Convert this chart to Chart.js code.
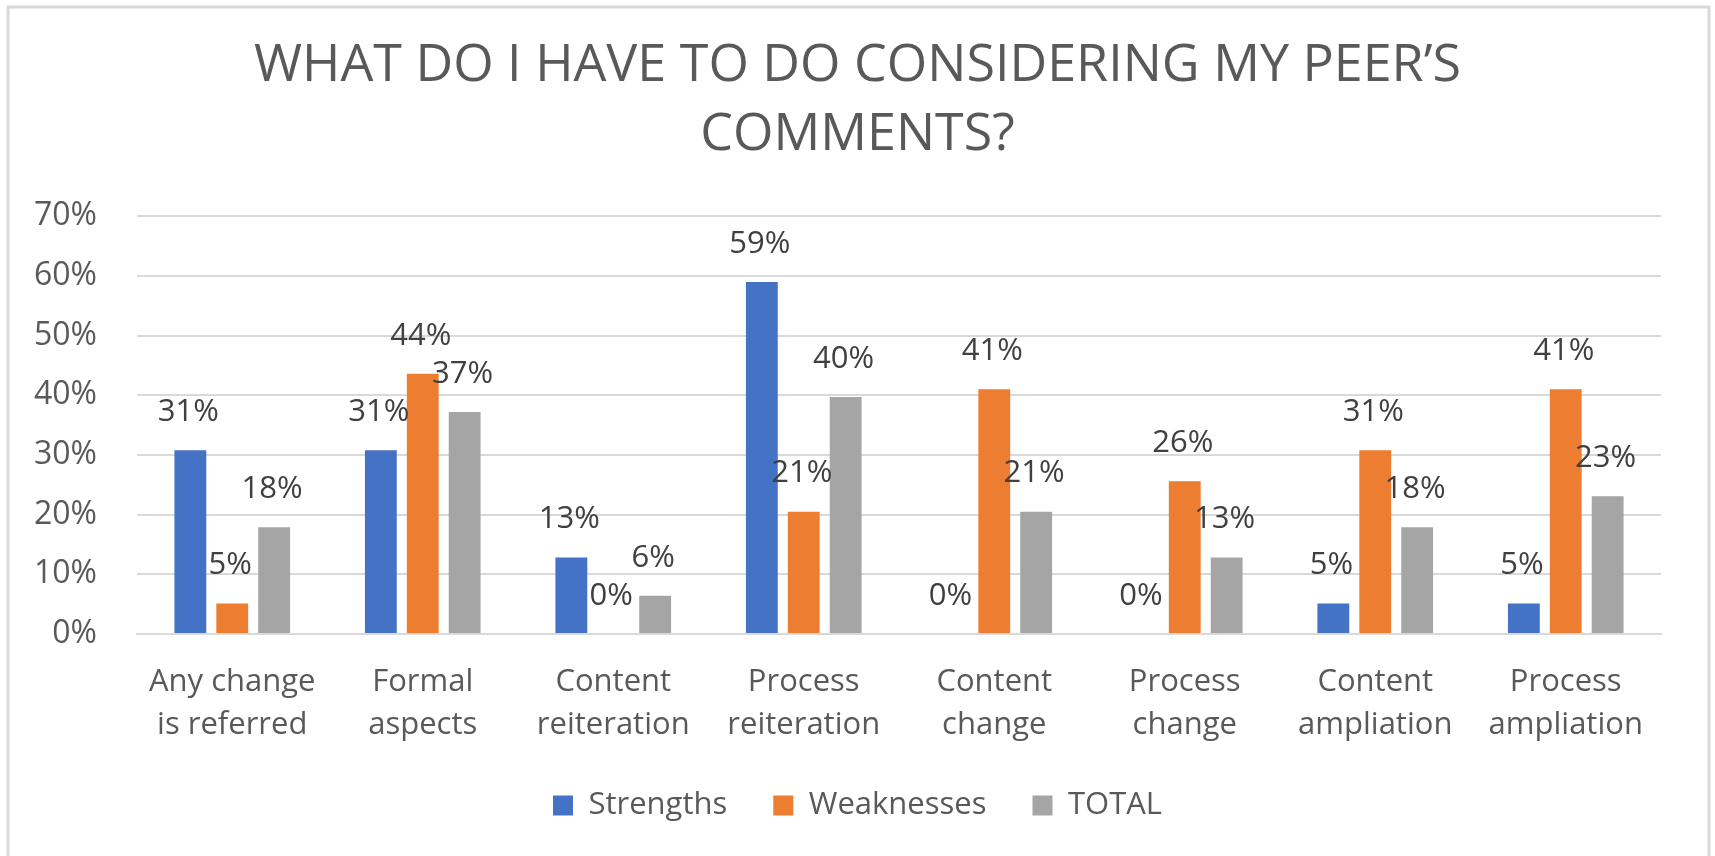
<!DOCTYPE html>
<html>
<head>
<meta charset="utf-8">
<title>What do I have to do considering my peer's comments?</title>
<script src="https://cdn.jsdelivr.net/npm/chart.js@4/dist/chart.umd.min.js"></script>
<style>
  html, body { margin: 0; padding: 0; background: #fff; }
  canvas { display: block; }
</style>
</head>
<body>
<canvas id="chart" width="1715" height="856"></canvas>
<script>
// chart data
const categories = [
  ['Any change', 'is referred'],
  ['Formal', 'aspects'],
  ['Content', 'reiteration'],
  ['Process', 'reiteration'],
  ['Content', 'change'],
  ['Process', 'change'],
  ['Content', 'ampliation'],
  ['Process', 'ampliation']
];
const strengths  = [30.8, 30.8, 12.8, 59.0, 0, 0, 5.1, 5.1];
const weaknesses = [5.1, 43.6, 0, 20.5, 41.0, 25.6, 30.8, 41.0];
const total      = [17.9, 37.2, 6.4, 39.7, 20.5, 12.8, 17.9, 23.1];
const yTicks = [0, 10, 20, 30, 40, 50, 60, 70];

const textColor = '#595959';
const gridColor = '#D9D9D9';
const fontFamily = '"Open Sans", "Liberation Sans", sans-serif';

// light grey frame round the whole chart
const frame = {
  id: 'frame',
  beforeDraw(chart) {
    const ctx = chart.ctx;
    ctx.save();
    ctx.fillStyle = '#fff';
    ctx.fillRect(0, 0, chart.width, chart.height);
    ctx.strokeStyle = gridColor;
    ctx.lineWidth = 3;
    ctx.strokeRect(8, 7, chart.width - 14, chart.height + 20);
    ctx.restore();
  }
};

// value labels above each bar
const barLabels = {
  id: 'barLabels',
  afterDatasetsDraw(chart) {
    const ctx = chart.ctx;
    ctx.save();
    ctx.font = '31px ' + fontFamily;
    ctx.fillStyle = '#404040';
    ctx.textAlign = 'center';
    ctx.textBaseline = 'middle';
    chart.data.datasets.forEach((ds, i) => {
      chart.getDatasetMeta(i).data.forEach((bar, j) => {
        ctx.fillText(Math.round(ds.data[j]) + '%', bar.x - 2, bar.y - 38);
      });
    });
    ctx.restore();
  }
};

new Chart(document.getElementById('chart'), {
  type: 'bar',
  data: {
    labels: categories,
    datasets: [
      { label: 'Strengths', data: strengths, backgroundColor: '#4472C4' },
      { label: 'Weaknesses', data: weaknesses, backgroundColor: '#ED7D31' },
      { label: 'TOTAL', data: total, backgroundColor: '#A5A5A5' }
    ]
  },
  options: {
    responsive: false,
    animation: false,
    devicePixelRatio: 1,
    categoryPercentage: 0.66,
    barPercentage: 0.76,
    layout: { padding: { left: 0, right: 0, top: 0, bottom: 25 } },
    plugins: {
      title: {
        display: true,
        text: ['WHAT DO I HAVE TO DO CONSIDERING MY PEER\u2019S', 'COMMENTS?'],
        color: textColor,
        font: { family: fontFamily, size: 52, weight: 'normal', lineHeight: 1.32 },
        padding: { top: 32, bottom: 47 }
      },
      legend: {
        position: 'bottom',
        labels: {
          color: textColor,
          font: { family: fontFamily, size: 31 },
          boxWidth: 20,
          boxHeight: 20,
          padding: 46
        }
      },
      tooltip: { enabled: false }
    },
    scales: {
      x: {
        grid: { display: false, drawTicks: false },
        border: { color: gridColor, width: 2 },
        ticks: {
          color: textColor,
          font: { family: fontFamily, size: 31, lineHeight: 1.38 },
          padding: 27,
          maxRotation: 0,
          autoSkip: false
        },
        afterFit(s) { s.height = 110; }
      },
      y: {
        min: 0,
        max: 70,
        afterBuildTicks(s) { s.ticks = yTicks.map(v => ({ value: v })); },
        grid: { color: gridColor, lineWidth: 2, drawTicks: false },
        border: { display: false },
        ticks: {
          color: textColor,
          font: { family: fontFamily, size: 32 },
          padding: 40,
          callback: v => v + '%'
        },
        afterFit(s) { s.width = 137; }
      },
      // empty right-hand margin so the legend stays centred on the canvas
      yRight: {
        position: 'right',
        min: 0,
        max: 70,
        grid: { display: false },
        border: { display: false },
        ticks: { display: false },
        afterFit(s) { s.width = 54; }
      }
    }
  },
  plugins: [frame, barLabels]
});
</script>
</body>
</html>
